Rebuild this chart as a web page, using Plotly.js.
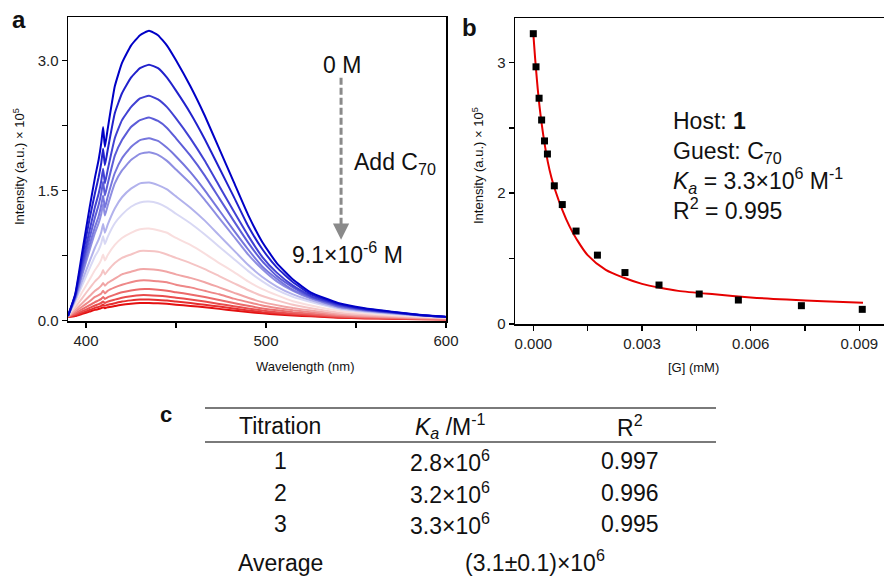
<!DOCTYPE html>
<html>
<head>
<meta charset="utf-8">
<script src="https://cdn.plot.ly/plotly-3.0.1.min.js"></script>
<style>
  html, body { margin: 0; padding: 0; background: #fff; }
  #chart { width: 884px; height: 576px; }
</style>
</head>
<body>
<div id="chart"></div>
<script>
// ---------- Panel a: emission spectra (intensity ×10^5) ----------
const wavelength = [390, 394, 398, 402, 405, 407, 408.5, 409.5, 410.5, 412, 416, 420, 425, 430, 435, 440, 445, 450, 458, 466, 474, 482, 490, 498, 506, 515, 525, 540, 555, 570, 585, 600];

const s01 = [0.05, 0.30, 0.80, 1.30, 1.65, 1.85, 2.05, 2.23, 2.00, 2.20, 2.70, 2.97, 3.17, 3.29, 3.34, 3.29, 3.17, 3.00, 2.70, 2.36, 1.98, 1.60, 1.22, 0.90, 0.66, 0.47, 0.32, 0.20, 0.14, 0.10, 0.063, 0.040];
const s02 = [0.05, 0.29, 0.73, 1.17, 1.47, 1.65, 1.82, 1.98, 1.79, 1.96, 2.39, 2.62, 2.80, 2.91, 2.95, 2.91, 2.80, 2.65, 2.39, 2.09, 1.76, 1.43, 1.09, 0.82, 0.61, 0.44, 0.30, 0.19, 0.13, 0.097, 0.062, 0.039];
const s03 = [0.05, 0.28, 0.66, 1.04, 1.31, 1.46, 1.61, 1.75, 1.58, 1.73, 2.10, 2.31, 2.46, 2.56, 2.59, 2.55, 2.46, 2.33, 2.10, 1.84, 1.55, 1.26, 0.98, 0.73, 0.55, 0.40, 0.28, 0.18, 0.126, 0.092, 0.061, 0.039];
const s04 = [0.05, 0.27, 0.61, 0.95, 1.19, 1.33, 1.47, 1.60, 1.44, 1.57, 1.90, 2.08, 2.23, 2.31, 2.34, 2.30, 2.22, 2.10, 1.90, 1.67, 1.41, 1.15, 0.90, 0.68, 0.51, 0.38, 0.27, 0.17, 0.122, 0.090, 0.061, 0.039];
const s05 = [0.05, 0.26, 0.56, 0.87, 1.08, 1.20, 1.33, 1.44, 1.30, 1.42, 1.70, 1.87, 2.00, 2.08, 2.10, 2.07, 1.99, 1.89, 1.71, 1.50, 1.27, 1.04, 0.82, 0.62, 0.48, 0.35, 0.26, 0.16, 0.117, 0.086, 0.059, 0.038];
const s06 = [0.05, 0.25, 0.53, 0.81, 1.01, 1.12, 1.23, 1.34, 1.21, 1.32, 1.58, 1.73, 1.85, 1.92, 1.94, 1.91, 1.84, 1.74, 1.58, 1.39, 1.18, 0.97, 0.76, 0.59, 0.45, 0.34, 0.25, 0.16, 0.114, 0.085, 0.059, 0.038];
const s07 = [0.05, 0.23, 0.46, 0.68, 0.84, 0.93, 1.02, 1.11, 1.01, 1.10, 1.29, 1.42, 1.52, 1.58, 1.59, 1.56, 1.51, 1.43, 1.30, 1.15, 0.98, 0.81, 0.64, 0.50, 0.39, 0.30, 0.23, 0.145, 0.105, 0.078, 0.056, 0.037];
const s08 = [0.05, 0.22, 0.41, 0.60, 0.74, 0.81, 0.89, 0.97, 0.88, 0.96, 1.12, 1.22, 1.31, 1.36, 1.37, 1.35, 1.30, 1.23, 1.12, 0.99, 0.85, 0.71, 0.57, 0.45, 0.35, 0.27, 0.21, 0.134, 0.097, 0.073, 0.052, 0.036];
const s09 = [0.05, 0.18, 0.33, 0.47, 0.58, 0.64, 0.70, 0.76, 0.69, 0.75, 0.87, 0.95, 1.01, 1.05, 1.06, 1.04, 1.01, 0.95, 0.87, 0.77, 0.66, 0.56, 0.45, 0.36, 0.29, 0.22, 0.17, 0.111, 0.081, 0.061, 0.045, 0.033];
const s10 = [0.048, 0.15, 0.26, 0.37, 0.45, 0.49, 0.53, 0.58, 0.53, 0.57, 0.66, 0.72, 0.76, 0.80, 0.80, 0.79, 0.76, 0.72, 0.66, 0.59, 0.51, 0.43, 0.35, 0.28, 0.23, 0.18, 0.14, 0.091, 0.066, 0.050, 0.037, 0.028];
const s11 = [0.046, 0.12, 0.20, 0.28, 0.34, 0.37, 0.40, 0.43, 0.40, 0.43, 0.48, 0.53, 0.56, 0.59, 0.59, 0.58, 0.56, 0.53, 0.49, 0.44, 0.38, 0.32, 0.26, 0.21, 0.175, 0.141, 0.112, 0.073, 0.053, 0.040, 0.030, 0.023];
const s12 = [0.044, 0.10, 0.16, 0.22, 0.27, 0.29, 0.31, 0.34, 0.31, 0.34, 0.38, 0.41, 0.44, 0.46, 0.46, 0.45, 0.44, 0.41, 0.38, 0.34, 0.30, 0.25, 0.21, 0.17, 0.142, 0.115, 0.092, 0.060, 0.044, 0.034, 0.025, 0.019];
const s13 = [0.042, 0.081, 0.128, 0.174, 0.21, 0.229, 0.247, 0.269, 0.247, 0.265, 0.296, 0.323, 0.345, 0.359, 0.36, 0.353, 0.342, 0.324, 0.298, 0.268, 0.234, 0.20, 0.167, 0.137, 0.115, 0.093, 0.076, 0.049, 0.036, 0.028, 0.021, 0.016];
const s14 = [0.040, 0.068, 0.105, 0.142, 0.171, 0.186, 0.201, 0.218, 0.200, 0.215, 0.239, 0.261, 0.278, 0.290, 0.29, 0.284, 0.275, 0.261, 0.240, 0.216, 0.189, 0.163, 0.136, 0.112, 0.094, 0.077, 0.063, 0.041, 0.030, 0.023, 0.018, 0.013];
const s15 = [0.038, 0.058, 0.088, 0.119, 0.143, 0.155, 0.167, 0.181, 0.167, 0.179, 0.198, 0.216, 0.230, 0.240, 0.24, 0.235, 0.228, 0.216, 0.199, 0.179, 0.158, 0.136, 0.114, 0.094, 0.080, 0.066, 0.054, 0.035, 0.026, 0.020, 0.015, 0.012];
const s16 = [0.037, 0.050, 0.075, 0.100, 0.120, 0.130, 0.140, 0.152, 0.140, 0.150, 0.165, 0.180, 0.192, 0.200, 0.20, 0.196, 0.190, 0.180, 0.166, 0.150, 0.132, 0.114, 0.096, 0.080, 0.068, 0.056, 0.046, 0.030, 0.022, 0.017, 0.013, 0.010];

const spectra = [s01, s02, s03, s04, s05, s06, s07, s08, s09, s10, s11, s12, s13, s14, s15, s16];
const spectrumColors = ['#0000c6', '#2121cc', '#4141d3', '#5c5cd8', '#7676dd', '#8e8ee2', '#b2b2ec', '#d8d8f4',
                        '#f9dede', '#f5c4c4', '#f1a6a6', '#ee8888', '#eb6a6a', '#e94c4c', '#e62e2e', '#e41010'];

const aXTickVals = [400, 500, 600];
const aYTickVals = [0, 1.5, 3];
const aYTickText = ['0.0', '1.5', '3.0'];

// ---------- Panel b: titration points and fit ----------
const guestConc = [0, 0.000075, 0.00016, 0.00023, 0.00031, 0.00039, 0.00058, 0.0008, 0.00118, 0.00177, 0.00253, 0.00347, 0.00458, 0.00566, 0.0074, 0.00908];
const guestIntensity = [3.33, 2.95, 2.59, 2.34, 2.10, 1.95, 1.585, 1.37, 1.066, 0.79, 0.59, 0.447, 0.344, 0.275, 0.21, 0.168];
const fitConc = [0, 0.00005, 0.0001, 0.00015, 0.0002, 0.0003, 0.0004, 0.0005, 0.0006, 0.0008, 0.001, 0.0012, 0.0015, 0.002, 0.0025, 0.003, 0.0035, 0.004, 0.005, 0.006, 0.007, 0.008, 0.0091];
const fitIntensity = [3.33, 3.05, 2.80, 2.58, 2.40, 2.10, 1.86, 1.68, 1.54, 1.31, 1.12, 0.97, 0.79, 0.62, 0.53, 0.46, 0.415, 0.38, 0.34, 0.305, 0.28, 0.26, 0.245];

const bXTickVals = [0, 0.003, 0.006, 0.009];
const bXTickText = ['0.000', '0.003', '0.006', '0.009'];
const bYTickVals = [0, 1.5, 3];
const bYTickText = ['0', '2', '3'];

const fitInfo = ['Host: <b>1</b>', 'Guest: C<sub>70</sub>', '<i>K<sub>a</sub></i> = 3.3×10<sup>6</sup> M<sup>-1</sup>', 'R<sup>2</sup> = 0.995'];

// ---------- Panel c: table ----------
const tableHeader = ['Titration', '<i>K<sub>a</sub></i> /M<sup>-1</sup>', 'R<sup>2</sup>'];
const titrations = ['1', '2', '3'];
const kaValues = ['2.8×10<sup>6</sup>', '3.2×10<sup>6</sup>', '3.3×10<sup>6</sup>'];
const r2Values = ['0.997', '0.996', '0.995'];
const averageLabel = 'Average';
const averageKa = '(3.1±0.1)×10<sup>6</sup>';

// ---------- Build figure ----------
const W = 884, H = 576;
const FONT = 'Liberation Sans, Arial, Helvetica, sans-serif';
const px = v => v / W;
const py = v => 1 - v / H;

const traces = [];
for (let i = spectra.length - 1; i >= 0; i--) {
  traces.push({
    x: wavelength, y: spectra[i], type: 'scatter', mode: 'lines',
    line: {color: spectrumColors[i], width: 2, shape: 'spline', smoothing: 0.4},
    xaxis: 'x', yaxis: 'y', hoverinfo: 'x+y', showlegend: false
  });
}
traces.push({
  x: fitConc, y: fitIntensity, type: 'scatter', mode: 'lines',
  line: {color: '#e60000', width: 2, shape: 'spline', smoothing: 0.8},
  xaxis: 'x2', yaxis: 'y2', showlegend: false
});
traces.push({
  x: guestConc, y: guestIntensity, type: 'scatter', mode: 'markers',
  marker: {symbol: 'square', size: 7, color: '#000'},
  xaxis: 'x2', yaxis: 'y2', showlegend: false
});

const axisCommon = {
  showgrid: false, zeroline: false, showline: true, mirror: true,
  linecolor: '#000', linewidth: 1.5, ticks: 'outside', ticklen: 5, tickwidth: 1.5, tickcolor: '#000',
  tickfont: {family: FONT, size: 15, color: '#222'}
};

const annotations = [];
function txt(text, x, y, size, opts) {
  annotations.push(Object.assign({
    text: text, x: px(x), y: py(y), xref: 'paper', yref: 'paper',
    showarrow: false, xanchor: 'center', yanchor: 'middle',
    font: {family: FONT, size: size, color: '#111'}
  }, opts || {}));
}

// panel letters
txt('<b>a</b>', 19, 20, 24);
txt('<b>b</b>', 469, 27, 24);
txt('<b>c</b>', 166, 414, 22);

// panel a annotations
txt('0 M', 342, 65, 23);
txt('Add C<sub>70</sub>', 352, 163, 23, {xanchor: 'left'});
txt('9.1×10<sup>-6</sup> M', 347, 253, 23);
// arrow head
annotations.push({
  x: 541.7, y: 0.93, xref: 'x', yref: 'y', ax: 0, ay: -12, axref: 'pixel', ayref: 'pixel',
  text: '', showarrow: true, arrowhead: 2, arrowsize: 1.3, arrowwidth: 2.5, arrowcolor: '#8a8a8a'
});

// axis titles
txt('Intensity (a.u.) × 10<sup>5</sup>', 19, 167, 13, {textangle: -90});
txt('Wavelength (nm)', 305, 366, 13);
txt('Intensity (a.u.) × 10<sup>5</sup>', 478, 165, 13, {textangle: -90});
txt('[G] (mM)', 693, 367, 13);

// panel b info block (one multi-line text)
txt(fitInfo.join('<br>'), 671, 166, 23, {xanchor: 'left', align: 'left'});

// table
const colX = [280, 450, 630];
const rowY = [461, 493, 524];
tableHeader.forEach((t, j) => txt(t, colX[j], 426, 23));
titrations.forEach((t, i) => {
  txt(t, colX[0], rowY[i], 23);
  txt(kaValues[i], colX[1], rowY[i], 23);
  txt(r2Values[i], colX[2], rowY[i], 23);
});
txt(averageLabel, colX[0], 563, 23);
txt(averageKa, 535, 561, 23);

const shapes = [
  {type: 'line', xref: 'paper', yref: 'paper', x0: px(205), x1: px(716), y0: py(408), y1: py(408), line: {color: '#7a7a7a', width: 2}},
  {type: 'line', xref: 'paper', yref: 'paper', x0: px(205), x1: px(716), y0: py(442), y1: py(442), line: {color: '#7a7a7a', width: 2}},
  {type: 'line', xref: 'x', yref: 'y', x0: 541.7, x1: 541.7, y0: 2.80, y1: 1.02, line: {color: '#8a8a8a', width: 3, dash: '7px,3px'}}
];

const layout = {
  width: W, height: H,
  margin: {l: 0, r: 0, t: 0, b: 0},
  paper_bgcolor: '#fff', plot_bgcolor: '#fff',
  showlegend: false,
  xaxis: Object.assign({}, axisCommon, {
    domain: [px(68), px(446)], range: [390, 600], anchor: 'y',
    tickvals: aXTickVals, minor: {dtick: 50, tick0: 400, ticks: 'outside', ticklen: 5, tickwidth: 1.5, tickcolor: '#000'}
  }),
  yaxis: Object.assign({}, axisCommon, {
    domain: [py(321), py(17)], range: [-0.008, 3.5], anchor: 'x',
    tickvals: aYTickVals, ticktext: aYTickText,
    minor: {dtick: 0.75, tick0: 0, ticks: 'outside', ticklen: 5, tickwidth: 1.5, tickcolor: '#000'}
  }),
  xaxis2: Object.assign({}, axisCommon, {
    domain: [px(515), 1], range: [-0.000505, 0.00968], anchor: 'y2',
    tickvals: bXTickVals, ticktext: bXTickText,
    minor: {dtick: 0.0015, tick0: 0, ticks: 'outside', ticklen: 5, tickwidth: 1.5, tickcolor: '#000'}
  }),
  yaxis2: Object.assign({}, axisCommon, {
    domain: [py(324), py(18)], range: [0, 3.51], anchor: 'x2',
    tickvals: bYTickVals, ticktext: bYTickText,
    minor: {dtick: 0.75, tick0: 0, ticks: 'outside', ticklen: 5, tickwidth: 1.5, tickcolor: '#000'}
  }),
  annotations: annotations,
  shapes: shapes
};

Plotly.newPlot('chart', traces, layout, {staticPlot: true, displayModeBar: false});
</script>
</body>
</html>
